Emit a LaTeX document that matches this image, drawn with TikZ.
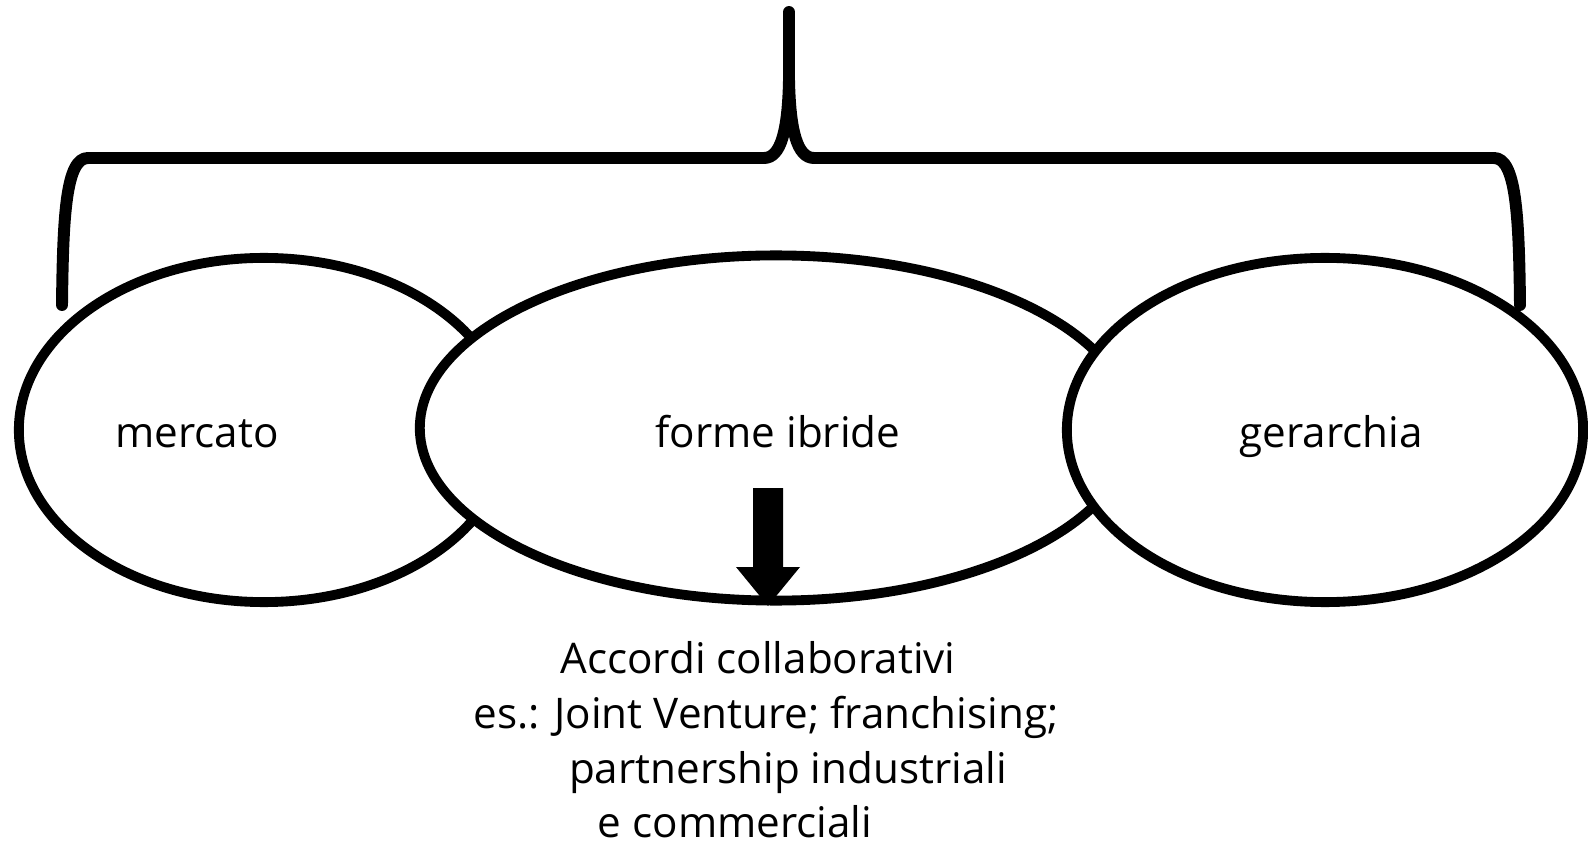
\documentclass[tikz,border=0pt]{standalone}
\usepackage{fontspec}
\setmainfont{Open Sans}
\usetikzlibrary{shapes.geometric}
\tikzset{
  ell/.style={ellipse, draw=black, fill=white, line width=2.8pt, inner sep=0pt, outer sep=0pt},
  lbl/.style={font=\fontsize{12}{14}\selectfont, inner sep=0pt, anchor=base},
  bracket/.style={line width=3.4pt, line cap=round, line join=round},
  blockarrow/.style={fill=black, draw=none}
}
\begin{document}
\begin{tikzpicture}[x=0.01cm, y=-0.01cm]
\useasboundingbox (0,0) rectangle (1588,849);
% brace
\coordinate (bl) at (62,305);
\coordinate (br) at (1520,305);
\coordinate (top) at (789,12);
\draw[bracket] (bl) .. controls (63,215) and (66,158) .. (88,158) -- (764,158)
  .. controls (781,158) and (788,130) .. (789,80) -- (top);
\draw[bracket] (br) .. controls (1519,215) and (1516,158) .. (1494,158) -- (814,158)
  .. controls (797,158) and (790,130) .. (789,80);
% ellipses
\node[ell, minimum width=4.90cm, minimum height=3.44cm] (e1) at (264,430) {};
\node[ell, minimum width=7.12cm, minimum height=3.45cm] (e2) at (776,428) {};
\node[ell, minimum width=5.16cm, minimum height=3.44cm] (e3) at (1325,430) {};
% labels
\node[lbl] (t1) at (197,448) {mercato};
\node[lbl] (t2) at (778,448) {forme ibride};
\node[lbl] (t3) at (1331,448) {gerarchia};
% block arrow
\coordinate (atip) at (768,606);
\fill[blockarrow] (753,488) -- (783,488) -- (783,567) -- (800,567) -- (atip) -- (736,567) -- (753,567) -- cycle;
% text
\node[lbl] (l1) at (758,673) {Accordi collaborativi};
\node[lbl] (l2) at (766,728) {es.: Joint Venture; franchising;};
\node[lbl] (l3) at (788,783) {partnership industriali};
\node[lbl] (l4) at (735,837) {e commerciali};
\end{tikzpicture}
\end{document}
